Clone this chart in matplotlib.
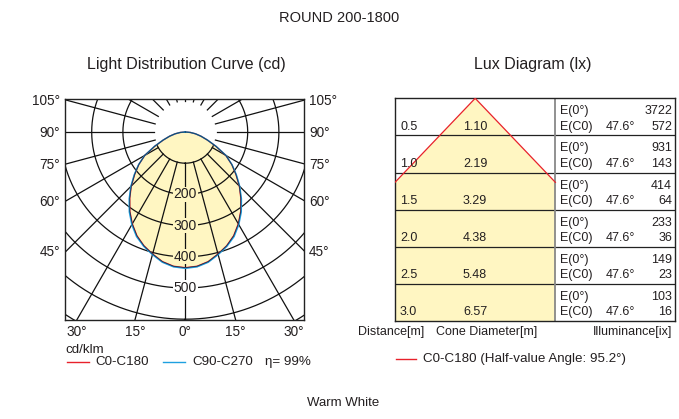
import numpy as np
import matplotlib
matplotlib.use("Agg")
import matplotlib.pyplot as plt
from matplotlib.patches import Polygon
from matplotlib.transforms import blended_transform_factory

plt.rcParams['font.family'] = ['Liberation Sans', 'DejaVu Sans']

# ---------------- data ----------------
title = "ROUND 200-1800"
footer = "Warm White"
curve_angles = [0, 5, 10, 15, 20, 25, 30, 35, 40, 45, 50, 55, 60, 65, 70, 75, 80, 85, 90]
c0_c180 = [435, 432, 422, 405, 388, 367, 340, 310, 277, 245, 212, 182, 150, 108, 75, 52, 33, 16, 0]
c90_c270 = [437, 434, 424, 407, 390, 370, 343, 313, 280, 247, 214, 183, 151, 109, 76, 52, 33, 16, 0]
ring_values = [100, 200, 300, 400, 500, 600, 700, 800, 900]
ring_labels = [200, 300, 400, 500]
bottom_tick_angles = [-30, -15, 0, 15, 30]
side_tick_angles = [45, 60, 75, 90, 105]
efficiency = 99

half_angle = 47.6
half_value_angle = 95.2
distances = [0.5, 1.0, 1.5, 2.0, 2.5, 3.0]
cone_diam = ["1.10", "2.19", "3.29", "4.38", "5.48", "6.57"]
e_center = [3722, 931, 414, 233, 149, 103]
e_c0 = [572, 143, 64, 36, 23, 16]

# ---------------- style ----------------
TXT = '#231f20'
GRID = '#111111'
YEL = '#fff6c2'
RED = '#e8212b'
BLUE = '#1ea0e0'

W, H = 679, 419
fig = plt.figure(figsize=(W / 100, H / 100), dpi=100)


def px_axes(l, t, r, b):
    return fig.add_axes([l / W, 1 - b / H, (r - l) / W, (b - t) / H])


fig.text(339.5 / W, 1 - 18 / H, title, ha='center', va='center', fontsize=10.5, color=TXT)
fig.text(186.5 / W, 1 - 64 / H, "Light Distribution Curve (cd)", ha='center', va='center', fontsize=11.5, color=TXT)
fig.text(533 / W, 1 - 64 / H, "Lux Diagram (lx)", ha='center', va='center', fontsize=11.5, color=TXT)
fig.text(343 / W, 1 - 403 / H, footer, ha='center', va='center', fontsize=9.5, color=TXT)

# ---------------- polar diagram ----------------
L, T, R, B = 65, 99, 304, 320
cx, cy = 185.3, 132.0
s = 0.312  # px per cd
ax = px_axes(L, T, R, B)
x0, x1 = (L - cx) / s, (R - cx) / s
y0, y1 = -(B - cy) / s, (cy - T) / s
ax.set_xlim(x0, x1)
ax.set_ylim(y0, y1)
ax.set_xticks([])
ax.set_yticks([])
for sp in ax.spines.values():
    sp.set_color('#222222')
    sp.set_linewidth(1.0)


def curve_xy(vals):
    a = np.radians(np.array(curve_angles, float))
    v = np.array(vals, float)
    th = np.concatenate([-a[::-1], a[1:]])
    rr = np.concatenate([v[::-1], v[1:]])
    return rr * np.sin(th), -rr * np.cos(th)


fx, fy = curve_xy(c0_c180)
fill = Polygon(np.column_stack([fx, fy]), closed=True, facecolor=YEL, edgecolor='none', zorder=1)
ax.add_patch(fill)

# grid
tt = np.linspace(0, 2 * np.pi, 721)
for rv in ring_values:
    ln, = ax.plot(rv * np.sin(tt), -rv * np.cos(tt), color=GRID, lw=0.9, zorder=2)
    if rv == ring_values[0]:
        ln.set_clip_path(fill)
for a in range(0, 360, 15):
    ar = np.radians(a)
    ax.plot([100 * np.sin(ar), 1200 * np.sin(ar)], [-100 * np.cos(ar), -1200 * np.cos(ar)],
            color=GRID, lw=0.9, zorder=2)

bx, by = curve_xy(c90_c270)
ax.plot(fx, fy, color=RED, lw=1.0, zorder=4)
ax.plot(bx, by, color=BLUE, lw=1.0, zorder=4)
ax.plot(fx, fy, color='#10203a', lw=0.6, zorder=4, alpha=0.8)

for rl in ring_labels:
    inside = rl < c0_c180[0]
    ax.text(0, -rl, str(rl), ha='center', va='center', fontsize=10, color=TXT, zorder=6,
            bbox=dict(boxstyle='square,pad=0.05', facecolor=YEL if inside else 'white', edgecolor='none'))

for a in bottom_tick_angles:
    xd = -y0 * np.tan(np.radians(a))
    xp = cx + xd * s
    fig.text(xp / W, 1 - 331.5 / H, f"{abs(a)}°", ha='center', va='center', fontsize=9.8, color=TXT)
for a in side_tick_angles:
    yd = -x1 / np.tan(np.radians(a)) if a != 90 else 0.0
    yp = cy - yd * s
    fig.text(60 / W, 1 - (yp + 1) / H, f"{a}°", ha='right', va='center', fontsize=9.8, color=TXT)
    fig.text(309 / W, 1 - (yp + 1) / H, f"{a}°", ha='left', va='center', fontsize=9.8, color=TXT)

fig.text(65 / W, 1 - 350 / H, "cd/klm", ha='left', va='center', fontsize=9.6, color=TXT)
fig.lines.append(plt.Line2D([67 / W, 89 / W], [1 - 362 / H] * 2, color=RED, lw=1.0, transform=fig.transFigure))
fig.text(95 / W, 1 - 362 / H, "C0-C180", ha='left', va='center', fontsize=9.6, color=TXT)
fig.lines.append(plt.Line2D([163 / W, 185 / W], [1 - 362 / H] * 2, color=BLUE, lw=1.0, transform=fig.transFigure))
fig.text(192 / W, 1 - 362 / H, "C90-C270", ha='left', va='center', fontsize=9.6, color=TXT)
fig.text(265 / W, 1 - 362 / H, f"η= {efficiency}%", ha='left', va='center', fontsize=9.6, color=TXT)

# ---------------- lux diagram ----------------
LL, LT, LR, LB = 395, 98.3, 675, 321
col_half = 1.24
ax2 = px_axes(LL, LT, LR, LB)
px_per_m = 80 / col_half
table_w = (LR - 555.7) / px_per_m
ax2.set_xlim(-col_half, col_half + table_w)
ax2.set_ylim(distances[-1], 0)
ax2.set_xticks([])
ax2.set_yticks([])
for sp in ax2.spines.values():
    sp.set_color('#222222')
    sp.set_linewidth(1.0)

t = np.tan(np.radians(half_angle))
d_hit = col_half / t
tri = [(0, 0), (col_half, d_hit), (col_half, distances[-1]), (-col_half, distances[-1]), (-col_half, d_hit)]
ax2.add_patch(Polygon(tri, closed=True, facecolor=YEL, edgecolor='none', zorder=1))
ax2.plot([-col_half, 0, col_half], [d_hit, 0, d_hit], color=RED, lw=0.9, zorder=3)
for d in distances[:-1]:
    ax2.axhline(d, color='#222222', lw=0.9, zorder=2)
ax2.axvline(col_half, color='#888888', lw=1.3, zorder=2)

tr = blended_transform_factory(ax2.transAxes, ax2.transData)
fw = LR - LL
for i, d in enumerate(distances):
    yl = d - 0.117
    yu = d - 0.325
    ax2.text((400 - LL) / fw, yl, f"{d:.1f}", transform=tr, ha='left', va='center', fontsize=9, color=TXT, zorder=5)
    ax2.text((463 - LL) / fw, yl, cone_diam[i], transform=tr, ha='left', va='center', fontsize=9, color=TXT, zorder=5)
    ax2.text((560 - LL) / fw, yu, "E(0°)", transform=tr, ha='left', va='center', fontsize=9, color=TXT, zorder=5)
    ax2.text((560 - LL) / fw, yl, "E(C0)", transform=tr, ha='left', va='center', fontsize=9, color=TXT, zorder=5)
    ax2.text((606 - LL) / fw, yl, f"{half_angle}°", transform=tr, ha='left', va='center', fontsize=9, color=TXT, zorder=5)
    ax2.text((672 - LL) / fw, yu, str(e_center[i]), transform=tr, ha='right', va='center', fontsize=9, color=TXT, zorder=5)
    ax2.text((672 - LL) / fw, yl, str(e_c0[i]), transform=tr, ha='right', va='center', fontsize=9, color=TXT, zorder=5)

fig.text(391 / W, 1 - 331.5 / H, "Distance[m]", ha='center', va='center', fontsize=9, color=TXT)
fig.text(487 / W, 1 - 331.5 / H, "Cone Diameter[m]", ha='center', va='center', fontsize=9, color=TXT)
fig.text(672 / W, 1 - 331.5 / H, "Illuminance[ix]", ha='right', va='center', fontsize=9, color=TXT)
fig.lines.append(plt.Line2D([396 / W, 416 / W], [1 - 359 / H] * 2, color=RED, lw=1.0, transform=fig.transFigure))
fig.text(423 / W, 1 - 359 / H, f"C0-C180 (Half-value Angle: {half_value_angle}°)", ha='left', va='center',
         fontsize=9.6, color=TXT)

fig.savefig("out.png", dpi=100, facecolor='white')
